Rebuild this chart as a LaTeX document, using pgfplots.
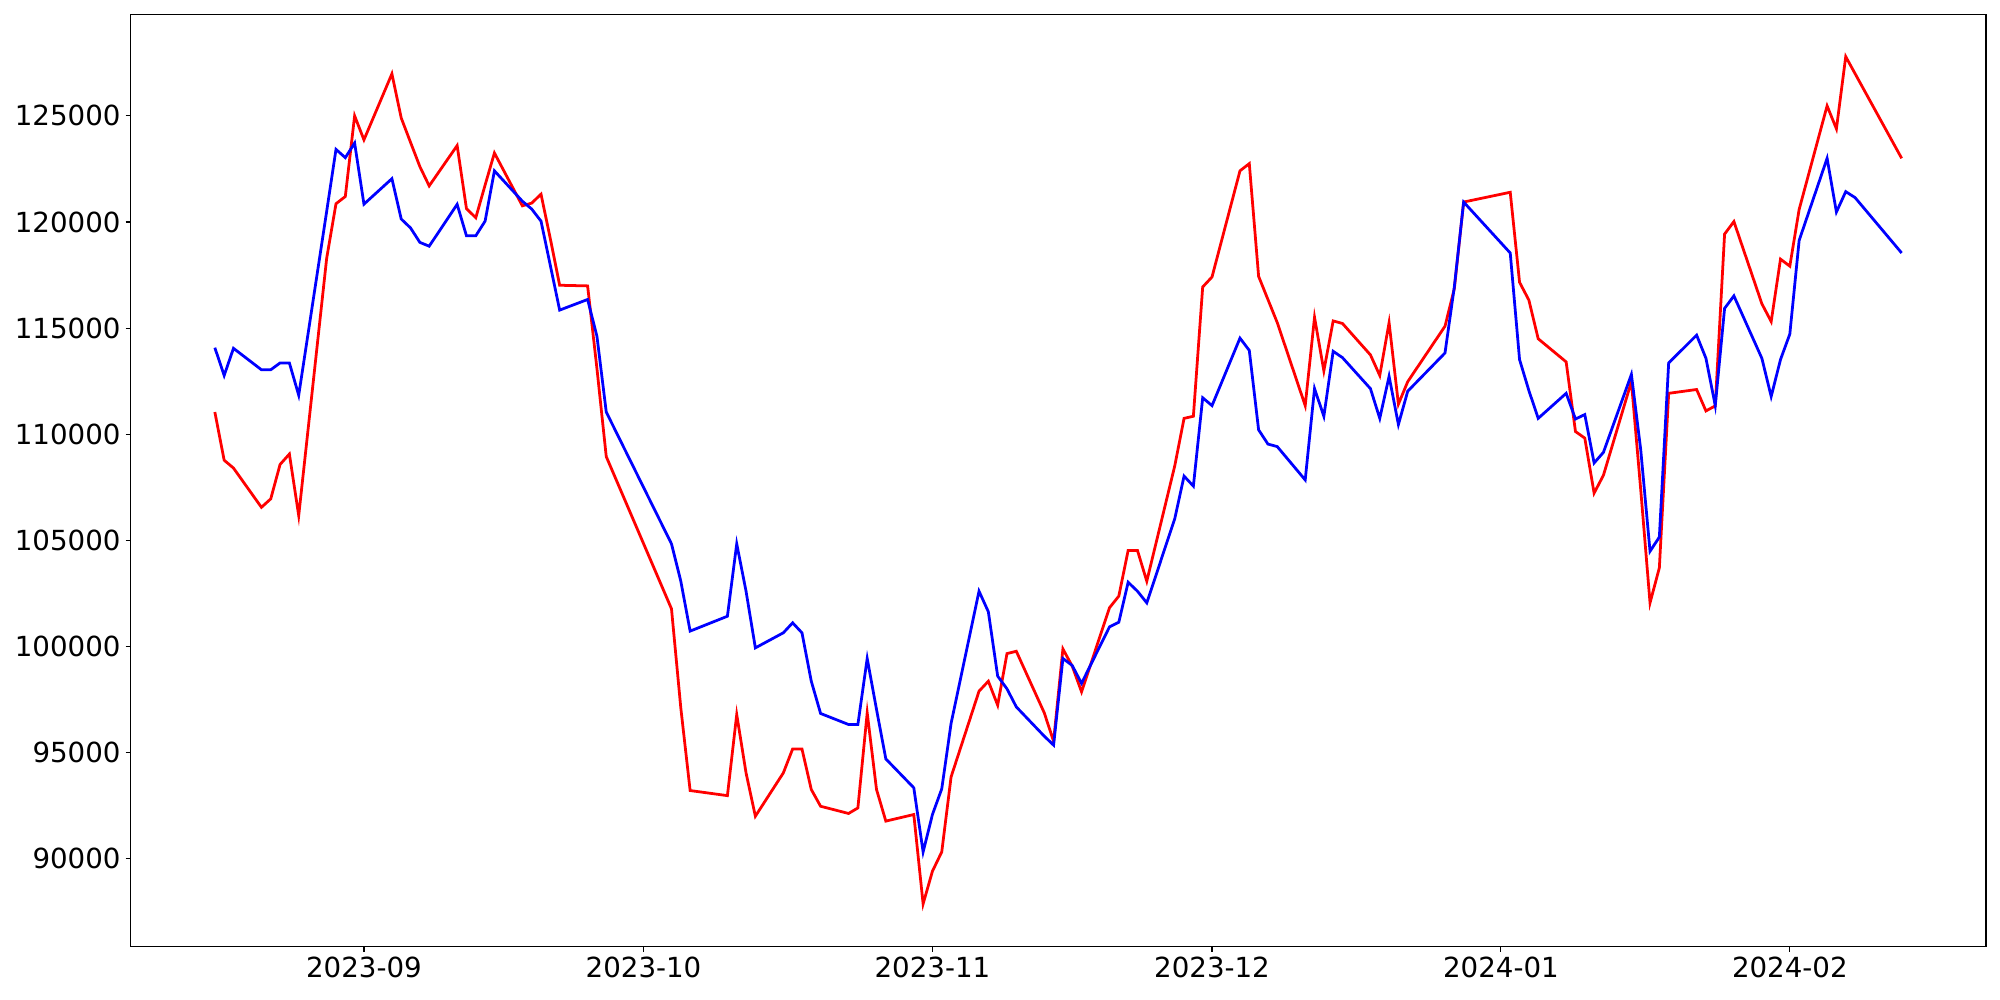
\documentclass[border=0pt]{standalone}
\usepackage{fontspec}
\setmainfont{DejaVu Sans}
\usepackage{pgfplots}
\pgfplotsset{compat=1.18}
\usepackage{pgfplotstable}
\pgfplotstableread{
d red blue
-16 111050 114080
-15 108780 112770
-14 108410 114050
-11 106560 113040
-10 106960 113040
-9 108580 113360
-8 109070 113360
-7 106170 111840
-4 118290 120500
-3 120860 123420
-2 121200 123030
-1 125000 123720
0 123870 120840
3 126980 122040
4 124900 120140
5 123750 119720
6 122610 119040
7 121700 118860
10 123600 120830
11 120630 119350
12 120200 119350
13 121740 120040
14 123250 122410
17 120760 120980
18 120890 120610
19 121310 120040
20 119210 117950
21 117020 115850
24 116990 116350
25 113100 114620
26 108950 111050
33 101780 104840
34 97110 103080
35 93220 100730
39 92980 101430
40 96800 104840
41 94050 102610
42 92010 99940
45 94050 100650
46 95180 101120
47 95180 100650
48 93270 98370
49 92480 96850
52 92140 96330
53 92400 96330
54 96880 99440
55 93270 97040
56 91780 94710
59 92090 93350
60 87880 90330
61 89420 92090
62 90330 93300
63 93860 96380
66 97900 102610
67 98370 101640
68 97240 98610
69 99670 98010
70 99780 97160
73 96880 95780
74 95540 95360
75 99890 99440
76 99080 99110
77 97870 98270
80 101830 100930
81 102380 101150
82 104530 103030
83 104530 102610
84 103080 102060
87 108510 106020
88 110750 108030
89 110850 107560
90 116940 111720
91 117410 111350
94 122410 114530
95 122750 113950
96 117440 110210
97 116350 109540
98 115260 109420
101 111350 107850
102 115510 112150
103 112990 110850
104 115340 113910
105 115220 113610
108 113740 112150
109 112770 110750
110 115260 112730
111 111420 110460
112 112480 112030
116 115090 113830
117 116860 116940
118 120940 120940
123 121400 118540
124 117160 113520
125 116320 112060
126 114500 110750
129 113410 111930
130 110130 110720
131 109820 110930
132 107230 108650
133 108070 109150
136 112480 112820
137 107400 109280
138 102060 104490
139 103710 105160
140 111930 113360
143 112110 114670
144 111100 113580
145 111340 111350
146 119430 115930
147 120020 116520
150 116150 113580
151 115310 111780
152 118250 113520
153 117920 114720
154 120590 119130
157 125470 123000
158 124390 120470
159 127790 121430
160 126990 121150
165 123000 118540
}\datatable

\begin{document}
\begin{tikzpicture}
\useasboundingbox (0,0) rectangle (20in,10in);
\begin{axis}[
  at={(1.305in,0.532in)}, anchor=south west,
  scale only axis, width=18.555in, height=9.32in,
  xmin=-25.05, xmax=174.05, ymin=85860, ymax=129760,
  xtick={0,30,61,91,122,153},
  xticklabels={2023-09,2023-10,2023-11,2023-12,2024-01,2024-02},
  ytick={90000,95000,100000,105000,110000,115000,120000,125000},
  yticklabels={90000,95000,100000,105000,110000,115000,120000,125000},
  scaled ticks=false,
  xtick pos=left, ytick pos=left,
  tick align=outside, major tick length=3.5pt,
  every tick/.style={black, line width=0.8pt},
  axis line style={line width=0.8pt},
  tick label style={font=\fontsize{20}{24}\selectfont},
  yticklabel style={inner sep=0pt, xshift=-3.5pt},
  xticklabel style={inner sep=0pt, yshift=-3.5pt},
  /pgf/number format/assume math mode=true,
]
\addplot[red, line width=2pt, mark=none] table[x=d, y=red]{\datatable};
\addplot[blue, line width=2pt, mark=none] table[x=d, y=blue]{\datatable};
\end{axis}
\end{tikzpicture}
\end{document}
